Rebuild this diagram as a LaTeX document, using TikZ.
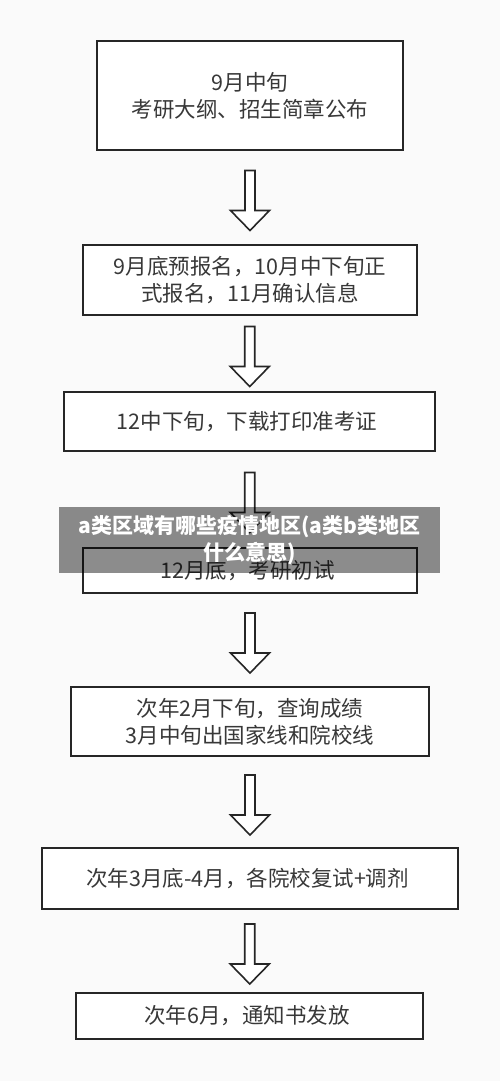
\documentclass[tikz,border=0pt]{standalone}
\usepackage{fontspec}
\newfontfamily\cjk{Noto Sans CJK SC}
\usetikzlibrary{calc}

\begin{document}
\begin{tikzpicture}[x=1pt,y=-1pt,
    stage/.style={draw=black!85,line width=1.6pt,fill=white,align=center,inner sep=0pt,text=black!78,font={\cjk\fontsize{21.5}{27}\selectfont}},
    flow/.style={draw=black!85,line width=1.6pt,fill=white,line join=miter},
    banner/.style={fill=black,fill opacity=0.45,text opacity=1,text=white,align=center,inner sep=0pt,font={\cjk\bfseries\fontsize{21}{27}\selectfont}}]
    \fill[black!2] (0,0) rectangle (500,1081);

    \node[stage,minimum width=306pt,minimum height=109pt] (s1) at (250,95.5) {
        9月中旬\\
        考研大纲、招生简章公布
    };
    \node[stage,minimum width=334pt,minimum height=70pt] (s2) at (250,280) {
        9月底预报名，10月中下旬正\\
        式报名，11月确认信息
    };
    \node[stage,minimum width=371pt,minimum height=59pt] (s3) at (249.5,421.5) {
        12中下旬，下载打印准考证
    };
    \node[stage,minimum width=334pt,minimum height=45pt] (s4) at (250,570.5) {
        12月底，考研初试
    };
    \node[stage,minimum width=358pt,minimum height=69pt] (s5) at (250,721.5) {
        次年2月下旬，查询成绩\\
        3月中旬出国家线和院校线
    };
    \node[stage,minimum width=416pt,minimum height=61pt] (s6) at (250,878.5) {
        次年3月底-4月，各院校复试+调剂
    };
    \node[stage,minimum width=347pt,minimum height=46pt] (s7) at (249.5,1016) {
        次年6月，通知书发放
    };

    % hollow arrows between the stages
    \foreach \a/\b in {s1/s2,s2/s3,s3/s4,s4/s5,s5/s6,s6/s7}{
        \coordinate (m) at ($(\a.south)!0.5!(\b.north)+(0,3)$);
        \draw[flow] ($(m)+(-5,-30)$) -- ++(10,0) -- ++(0,40) -- ++(14.5,0)
            -- ($(m)+(0,30)$) -- ($(m)+(-19.5,10)$) -- ++(14.5,0) -- cycle;
    }

    \node[banner,minimum width=381pt,minimum height=66pt] (title) at (249.5,540) {
        a类区域有哪些疫情地区(a类b类地区\\
        什么意思)
    };
\end{tikzpicture}
\end{document}
